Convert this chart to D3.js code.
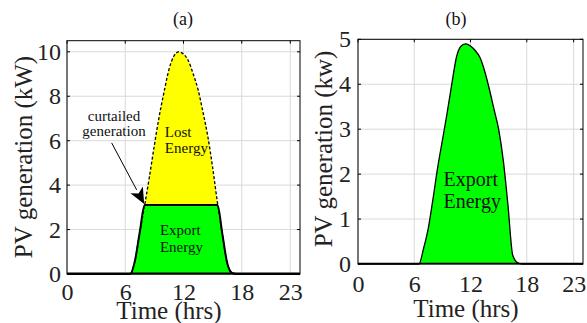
<!DOCTYPE html>
<html><head><meta charset="utf-8">
<script src="https://cdn.jsdelivr.net/npm/d3@7"></script>
<style>
body{margin:0;background:#fff;}
svg, svg text{display:block;font-family:"Liberation Serif","Times New Roman",serif !important;}
</style></head>
<body><svg id="c" width="587" height="323"></svg>
<script>
const hours = [0,0.5,1,1.5,2,2.5,3,3.5,4,4.5,5,5.5,6,6.5,7,7.5,8,8.5,9,9.5,10,10.5,11,11.5,12,12.5,13,13.5,14,14.5,15,15.5,16,16.5,17,17.5,18,18.5,19,19.5,20,20.5,21,21.5,22,22.5,23,23.5,24];
const pvA = [0,0,0,0,0,0,0,0,0,0,0,0,0,0,0.6,1.9,3.1,4.4,5.8,7.1,8.2,9.2,9.8,10.0,9.9,9.6,9.0,8.3,7.3,6.2,4.8,3.2,1.8,0.5,0.05,0,0,0,0,0,0,0,0,0,0,0,0,0,0];
const exportA = [0,0,0,0,0,0,0,0,0,0,0,0,0,0,0.6,1.9,3.1,3.1,3.1,3.1,3.1,3.1,3.1,3.1,3.1,3.1,3.1,3.1,3.1,3.1,3.1,3.1,1.8,0.5,0.05,0,0,0,0,0,0,0,0,0,0,0,0,0,0];
const pvB = [0,0,0,0,0,0,0,0,0,0,0,0,0,0,0.35,0.8,1.45,2.15,2.75,3.35,4.0,4.6,4.85,4.9,4.85,4.75,4.6,4.3,3.9,3.45,3.0,2.3,1.3,0.2,0.03,0,0,0,0,0,0,0,0,0,0,0,0,0,0];
const xTicks = [0,6,12,18,23];
const yTicksA = [0,2,4,6,8,10];
const yTicksB = [0,1,2,3,4,5];
const titles = ["(a)","(b)"];
const yLabels = ["PV generation (kW)","PV generation (kw)"];
const xLabel = "Time (hrs)";

const svg = d3.select("#c");
const grid = "#d9d9d9";
const FF = "Liberation Serif";

function panel(o){
  const g = svg.append("g");
  const x = d3.scaleLinear().domain([0,24]).range([o.l,o.r]);
  const y = d3.scaleLinear().domain([0,o.ymax]).range([o.b,o.t]);
  g.selectAll(".gx").data(xTicks).enter().append("line")
    .attr("x1",d=>x(d)).attr("x2",d=>x(d)).attr("y1",o.t).attr("y2",o.b)
    .attr("stroke",grid).attr("stroke-width",1);
  g.selectAll(".gy").data(o.yTicks).enter().append("line")
    .attr("y1",d=>y(d)).attr("y2",d=>y(d)).attr("x1",o.l).attr("x2",o.r)
    .attr("stroke",grid).attr("stroke-width",1);
  o.x = x; o.y = y; o.g = g;
  return o;
}
function frame(o){
  const {g,x,y} = o;
  o.yTicks.forEach(v=>{
    g.append("line").attr("x1",o.l).attr("x2",o.l+3).attr("y1",y(v)).attr("y2",y(v)).attr("stroke","#000");
    g.append("line").attr("x1",o.r).attr("x2",o.r-3).attr("y1",y(v)).attr("y2",y(v)).attr("stroke","#000");
  });
  xTicks.forEach(v=>{
    g.append("line").attr("x1",x(v)).attr("x2",x(v)).attr("y1",o.t).attr("y2",o.t+3).attr("stroke","#000");
  });
  g.append("rect").attr("x",o.l).attr("y",o.t).attr("width",o.r-o.l).attr("height",o.b-o.t)
    .attr("fill","none").attr("stroke","#000").attr("stroke-width",1);
  const ya = d3.axisLeft(y).tickValues(o.yTicks).tickSize(0).tickPadding(o.yPad).tickFormat(d3.format("d"));
  const ga = g.append("g").attr("transform",`translate(${o.l},0)`).call(ya);
  ga.select(".domain").remove();
  ga.attr("font-family",null).attr("font-size",null);
  ga.selectAll("text").style("font-size","24px").style("font-family",FF).attr("fill","#222");
  const xa = d3.axisBottom(x).tickValues(xTicks).tickSize(0).tickPadding(o.xPad).tickFormat(d3.format("d"));
  const gx = g.append("g").attr("transform",`translate(0,${o.b})`).call(xa);
  gx.select(".domain").remove();
  gx.attr("font-family",null).attr("font-size",null);
  gx.selectAll("text").style("font-size","24px").style("font-family",FF).attr("fill","#222");
  g.append("text").attr("x",o.titleX).attr("y",25).attr("text-anchor","middle").style("font-size","18px").attr("fill","#111").text(o.title);
  g.append("text").attr("x",o.xlX).attr("y",o.xlY).attr("text-anchor","middle").style("font-size","25px").attr("fill","#222").text(xLabel);
  g.append("text").attr("transform",`translate(${o.ylX},${o.ylY}) rotate(-90)`).attr("text-anchor","middle").style("font-size","25px").attr("fill","#222").text(o.ylabel);
}

// Panel A
const A = panel({l:67,r:300,t:40.7,b:274,ymax:10.5,yTicks:yTicksA,yPad:6,xPad:9,title:titles[0],titleX:183,xlX:169,xlY:319,ylX:32,ylY:157,ylabel:yLabels[0]});
{
  const {g,x,y} = A;
  const idx = d3.range(hours.length);
  const yellow = d3.area().curve(d3.curveMonotoneX).x(i=>x(hours[i])).y0(i=>y(exportA[i])).y1(i=>y(pvA[i]));
  const green = d3.area().curve(d3.curveMonotoneX).x(i=>x(hours[i])).y0(y(0)).y1(i=>y(exportA[i]));
  g.append("path").attr("d",yellow(idx)).attr("fill","#ffff00");
  g.append("path").attr("d",green(idx)).attr("fill","#00ff00");
  const pvLine = d3.line().curve(d3.curveMonotoneX).x(i=>x(hours[i])).y(i=>y(pvA[i]));
  const exLine = d3.line().curve(d3.curveMonotoneX).x(i=>x(hours[i])).y(i=>y(exportA[i]));
  g.append("path").attr("d",pvLine(idx)).attr("fill","none").attr("stroke","#000").attr("stroke-width",1.3).attr("stroke-dasharray","3,2");
  g.append("path").attr("d",exLine(idx)).attr("fill","none").attr("stroke","#000").attr("stroke-width",2);
  const tail=[x(4.6),y(5.9)], tip=[x(7.95),y(3.15)];
  const ang=Math.atan2(tip[1]-tail[1],tip[0]-tail[0]);
  const hl=16, hw=7;
  const base=[tip[0]-hl*Math.cos(ang), tip[1]-hl*Math.sin(ang)];
  g.append("line").attr("x1",tail[0]).attr("y1",tail[1]).attr("x2",base[0]).attr("y2",base[1]).attr("stroke","#000").attr("stroke-width",1);
  g.append("polygon").attr("points",[tip,[base[0]+hw*Math.sin(ang),base[1]-hw*Math.cos(ang)],[base[0]+4*Math.cos(ang),base[1]+4*Math.sin(ang)],[base[0]-hw*Math.sin(ang),base[1]+hw*Math.cos(ang)]].map(p=>p.join(",")).join(" ")).attr("fill","#000");
  const ann=[["curtailed",4.84,6.88,"middle"],["generation",4.84,6.2,"middle"],["Lost",10.08,6.18,"start"],["Energy",10.08,5.46,"start"],["Export",9.57,1.75,"start"],["Energy",9.57,1.0,"start"]];
  ann.forEach(a=>g.append("text").attr("x",x(a[1])).attr("y",y(a[2])).attr("text-anchor",a[3]).style("font-size","15px").attr("fill","#111").text(a[0]));
  frame(A);
  g.append("line").attr("x1",x(0)).attr("x2",x(24)).attr("y1",y(0)-0.5).attr("y2",y(0)-0.5).attr("stroke","#000").attr("stroke-width",2);
}

// Panel B
const B = panel({l:358,r:583,t:39.3,b:264,ymax:5,yTicks:yTicksB,yPad:7,xPad:11,title:titles[1],titleX:456,xlX:466,xlY:317,ylX:332,ylY:149,ylabel:yLabels[1]});
{
  const {g,x,y} = B;
  const idx = d3.range(hours.length);
  const green = d3.area().curve(d3.curveMonotoneX).x(i=>x(hours[i])).y0(y(0)).y1(i=>y(pvB[i]));
  g.append("path").attr("d",green(idx)).attr("fill","#00ff00");
  const line = d3.line().curve(d3.curveMonotoneX).x(i=>x(hours[i])).y(i=>y(pvB[i]));
  g.append("path").attr("d",line(idx)).attr("fill","none").attr("stroke","#000").attr("stroke-width",1.3);
  [["Export",9.12,1.73],["Energy",9.12,1.24]].forEach(a=>g.append("text").attr("x",x(a[1])).attr("y",y(a[2])).style("font-size","20px").attr("fill","#111").text(a[0]));
  frame(B);
  g.append("line").attr("x1",x(0)).attr("x2",x(24)).attr("y1",y(0)-0.5).attr("y2",y(0)-0.5).attr("stroke","#000").attr("stroke-width",1.5);
}
</script></body></html>
